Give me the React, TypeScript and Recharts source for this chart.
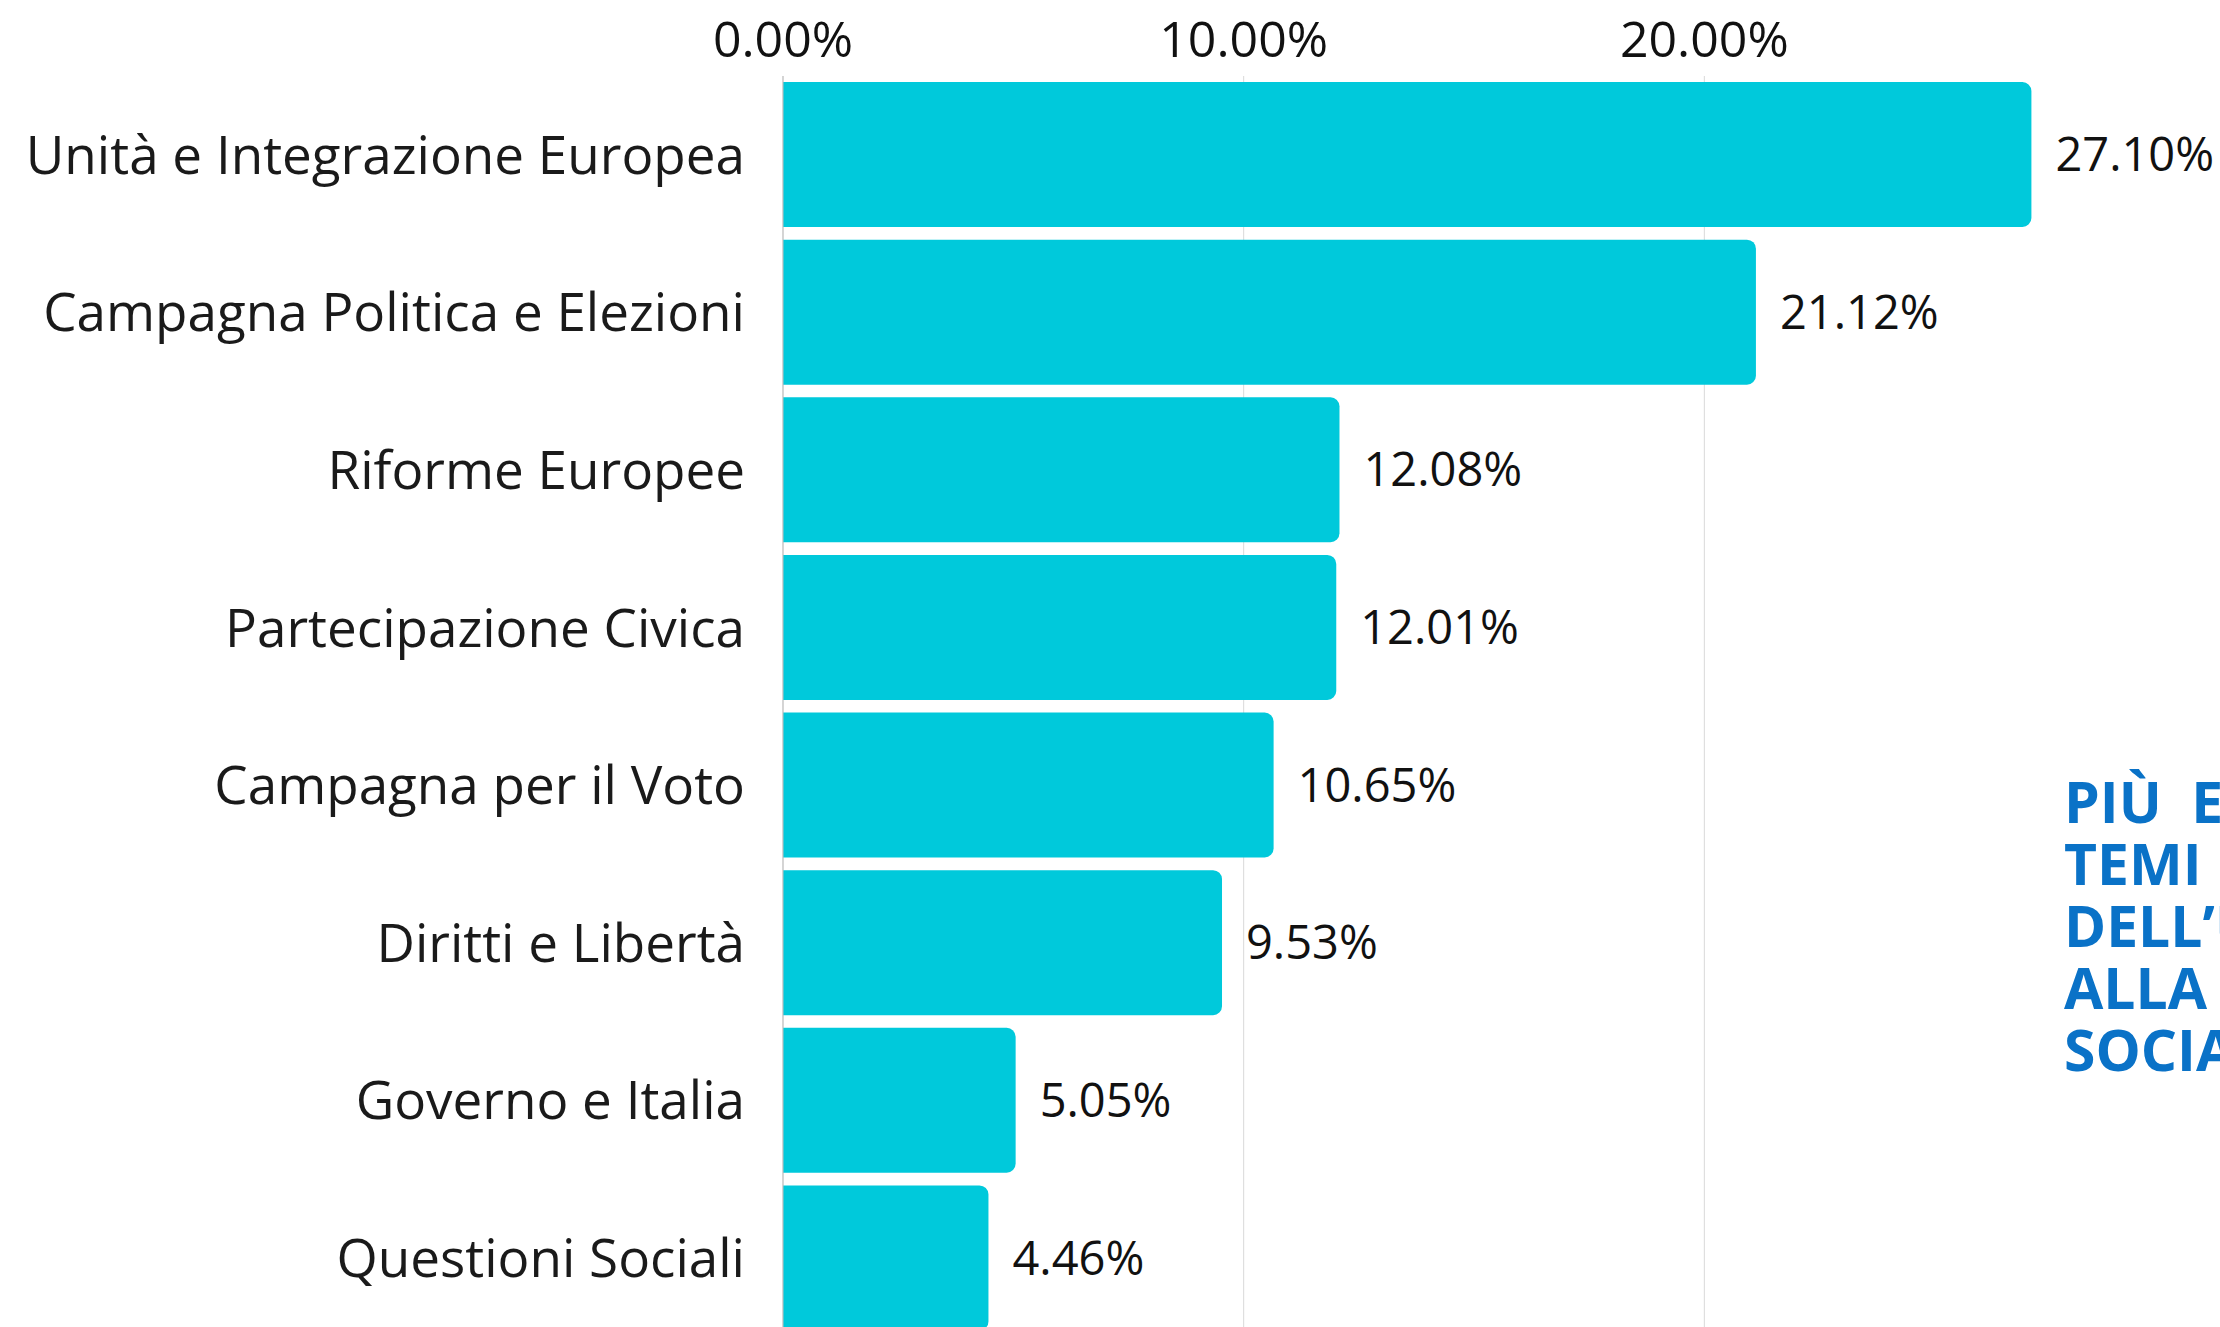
import { BarChart, Bar, XAxis, YAxis, CartesianGrid, LabelList } from "recharts";

const categories = [
  "Unità e Integrazione Europea",
  "Campagna Politica e Elezioni",
  "Riforme Europee",
  "Partecipazione Civica",
  "Campagna per il Voto",
  "Diritti e Libertà",
  "Governo e Italia",
  "Questioni Sociali",
];
const shares = [27.1, 21.12, 12.08, 12.01, 10.65, 9.53, 5.05, 4.46];
const xTicks = [0, 10, 20];
const sideLines = ["PIÙ  EUROPA", "TEMI", "DELL’UE", "ALLA", "SOCIALE"];

const data = categories.map((name, i) => ({ name, value: shares[i] }));

const FONT = "'Open Sans', sans-serif";
const pct = (v: number) => `${Number(v).toFixed(2)}%`;

export default function App() {
  return (
    <div
      style={{
        position: "absolute",
        left: 0,
        top: 0,
        width: 2220,
        height: 1327,
        overflow: "hidden",
        background: "#fff",
        fontFamily: FONT,
      }}
    >
      <BarChart
        width={2220}
        height={1337}
        data={data}
        layout="vertical"
        margin={{ top: 0, right: 55, bottom: 0, left: 0 }}
      >
        <CartesianGrid horizontal={false} verticalValues={xTicks} stroke="#d9d9d9" />
        <XAxis
          type="number"
          orientation="top"
          domain={[0, 30]}
          ticks={xTicks}
          height={76}
          axisLine={false}
          tickLine={false}
          tickSize={0}
          tickMargin={19}
          tickFormatter={pct}
          tick={{ fill: "#111", fontSize: 50, fontFamily: FONT }}
        />
        <YAxis
          type="category"
          dataKey="name"
          width={783}
          axisLine={{ stroke: "#bdbdbd" }}
          tickLine={false}
          tickSize={0}
          tickMargin={38}
          tick={{ fill: "#1a1a1a", fontSize: 53, fontFamily: FONT }}
        />
        <Bar dataKey="value" fill="#00C9DB" barSize={145} radius={[0, 9, 9, 0]} isAnimationActive={false}>
          <LabelList
            dataKey="value"
            position="right"
            offset={24}
            formatter={pct}
            fill="#111"
            fontSize={47}
            fontFamily={FONT}
          />
        </Bar>
      </BarChart>
      <div
        style={{
          position: "absolute",
          left: 2064,
          top: 770,
          color: "#0A72C7",
          fontWeight: 700,
          fontSize: 57,
          lineHeight: "62px",
          whiteSpace: "pre",
        }}
      >
        {sideLines.map((l) => (
          <div key={l}>{l}</div>
        ))}
      </div>
    </div>
  );
}
